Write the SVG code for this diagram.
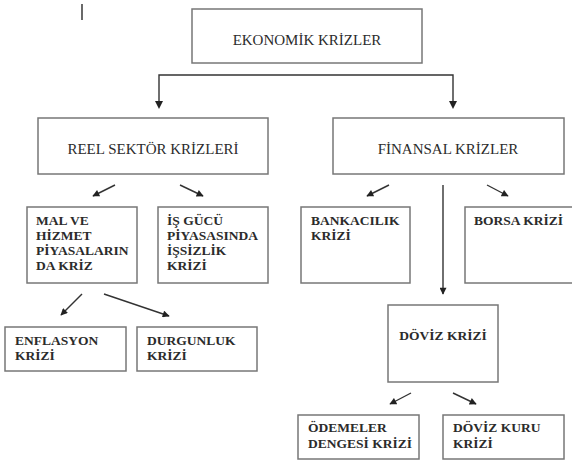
<svg xmlns="http://www.w3.org/2000/svg" width="572" height="464" viewBox="0 0 572 464">
<defs>
<marker id="ah" viewBox="0 0 10 10" refX="9" refY="5" markerWidth="8" markerHeight="7" markerUnits="userSpaceOnUse" orient="auto">
<path d="M0,0 L10,5 L0,10 Z" fill="#222"/>
</marker>
<style>
.box{fill:#fff;stroke:#777;stroke-width:1.5}
text{font-family:'Liberation Serif','Times New Roman','DejaVu Serif',serif;fill:#2b2b2b}
.big{font-size:15px;text-anchor:middle}
.sm{font-size:13.5px;font-weight:bold}
.c{fill:none;stroke:#333;stroke-width:1.4;marker-end:url(#ah)}
</style>
</defs>
<rect width="572" height="464" fill="#fff"/>
<line x1="82" y1="4" x2="82" y2="20" stroke="#444" stroke-width="1.6"/>
<g id="connectors">
<path d="M159,104 V75 H453 V104" fill="none" stroke="#333" stroke-width="1.4"/>
<path d="M155,101 L163,101 L159,109 Z M449,101 L457,101 L453,109 Z" fill="#222"/>
<line class="c" x1="115" y1="185" x2="93" y2="196"/>
<line class="c" x1="180" y1="185" x2="203" y2="196"/>
<line class="c" x1="389" y1="185" x2="367" y2="196"/>
<line class="c" x1="443" y1="185" x2="443" y2="294"/>
<line class="c" x1="487" y1="185" x2="508" y2="196"/>
<line class="c" x1="82" y1="294" x2="61" y2="315"/>
<line class="c" x1="104" y1="294" x2="169" y2="316"/>
<line class="c" x1="411" y1="393" x2="390" y2="404"/>
<line class="c" x1="453" y1="393" x2="476" y2="404"/>
</g>
<g id="ekonomik">
<rect class="box" x="192" y="9" width="230" height="54"/>
<text class="big" x="307" y="45" font-family="Liberation Serif, serif">EKONOMİK KRİZLER</text>
</g>
<g id="reel">
<rect class="box" x="38" y="118" width="230" height="56"/>
<text class="big" x="153" y="154">REEL SEKTÖR KRİZLERİ</text>
</g>
<g id="finansal">
<rect class="box" x="333" y="118" width="231" height="56"/>
<text class="big" x="448" y="154">FİNANSAL KRİZLER</text>
</g>
<g id="mal">
<rect class="box" x="27" y="207" width="110" height="76"/>
<text class="sm" x="36" y="225">MAL VE</text>
<text class="sm" x="36" y="240">HİZMET</text>
<text class="sm" x="36" y="255">PİYASALARIN</text>
<text class="sm" x="36" y="270">DA KRİZ</text>
</g>
<g id="isgucu">
<rect class="box" x="158" y="207" width="110" height="76"/>
<text class="sm" x="167" y="225">İŞ GÜCÜ</text>
<text class="sm" x="167" y="240">PİYASASINDA</text>
<text class="sm" x="167" y="255">İŞSİZLİK</text>
<text class="sm" x="167" y="270">KRİZİ</text>
</g>
<g id="bankacilik">
<rect class="box" x="301" y="207" width="109" height="76"/>
<text class="sm" x="311" y="225">BANKACILIK</text>
<text class="sm" x="311" y="240">KRİZİ</text>
</g>
<g id="borsa">
<rect class="box" x="465" y="207" width="115" height="76"/>
<text class="sm" x="474" y="225">BORSA KRİZİ</text>
</g>
<g id="enflasyon">
<rect class="box" x="5" y="327" width="121" height="44"/>
<text class="sm" x="15" y="345">ENFLASYON</text>
<text class="sm" x="15" y="360">KRİZİ</text>
</g>
<g id="durgunluk">
<rect class="box" x="137" y="327" width="120" height="44"/>
<text class="sm" x="147" y="345">DURGUNLUK</text>
<text class="sm" x="147" y="360">KRİZİ</text>
</g>
<g id="doviz">
<rect class="box" x="388" y="305" width="110" height="77"/>
<text class="sm" x="443" y="340" text-anchor="middle">DÖVİZ KRİZİ</text>
</g>
<g id="odemeler">
<rect class="box" x="298" y="415" width="121" height="44"/>
<text class="sm" x="308" y="432">ÖDEMELER</text>
<text class="sm" x="308" y="448">DENGESİ KRİZİ</text>
</g>
<g id="dovizkuru">
<rect class="box" x="443" y="415" width="121" height="44"/>
<text class="sm" x="453" y="432">DÖVİZ KURU</text>
<text class="sm" x="453" y="448">KRİZİ</text>
</g>
</svg>
